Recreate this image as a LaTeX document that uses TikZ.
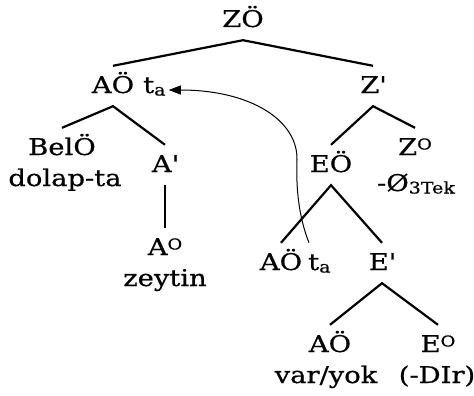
\documentclass[tikz,border=0pt]{standalone}
\usepackage{fontspec}
\setmainfont{DejaVu Serif}[FakeStretch=1.19,FakeBold=0.6]
\usetikzlibrary{arrows.meta,calc}
\newcommand\supO{\raisebox{5.5pt}{\fontsize{15}{15}\selectfont O}}
\newcommand\subsc[1]{\raisebox{-2.5pt}{\fontsize{16}{16}\selectfont #1}}
\newcommand\prm{\textquotesingle}
\tikzset{
  lab/.style={anchor=base, inner xsep=0pt, inner ysep=13pt, text height=14pt, text depth=0pt},
  word/.style={anchor=base, inner sep=0pt},
  branch/.style={line width=2.2pt},
  move/.style={line width=1pt, -{Triangle[length=12pt,width=9pt]}}
}
\begin{document}
\begin{tikzpicture}[x=1pt,y=-1pt,font=\fontsize{23}{23}\selectfont]
\useasboundingbox (0,0) rectangle (474,396);
% labels
\node[lab] (zo) at (243,27) {ZÖ};
\node[lab] (ao1) at (113,93) {AÖ};
\node[lab,anchor=base west] (ta1) at (143,93) {t\subsc{a}};
\node[lab] (zbar) at (373,93) {Z\prm};
\node[lab] (bel) at (62,155) {BelÖ};
\node[word] (dolap) at (65,186) {dolap-ta};
\node[lab] (abar) at (165,172) {A\prm};
\node[lab] (a0) at (165,255) {A\supO};
\node[word] (zeytin) at (165,286) {zeytin};
\node[lab] (eo) at (331,172) {EÖ};
\node[lab] (z0) at (415,155) {Z\supO};
\node[word] (null) at (416,191) {-Ø\subsc{3Tek}};
\node[lab] (ao2) at (281,270) {AÖ};
\node[lab,anchor=base west] (ta2) at (308,270) {t\subsc{a}};
\node[lab] (ebar) at (382,270) {E\prm};
\node[lab] (ao3) at (330,352) {AÖ};
\node[word] (varyok) at (326,383) {var/yok};
\node[lab] (e0) at (438,352) {E\supO};
\node[word] (dir) at (437,383) {(-DIr)};
% branches
\draw[branch] (ao1.north) -- (zo.south) -- (zbar.north);
\draw[branch] (bel.north) -- (ao1.south) -- (abar.north);
\draw[branch] (abar.south) -- (a0.north);
\draw[branch] (eo.north) -- (zbar.south) -- (z0.north);
\draw[branch] (ao2.north) -- (eo.south) -- (ebar.north);
\draw[branch] (ao3.north) -- (ebar.south) -- (e0.north);
% movement arrow
\coordinate (mvstart) at ([xshift=1pt]ta2.north west);
\coordinate (mvend) at ([xshift=3pt,yshift=-4pt]ta1.east);
\draw[move] (mvstart) .. controls (298,215) and (296,185) .. (297,160)
  .. controls (298,120) and (250,90) .. (mvend);
\end{tikzpicture}
\end{document}
